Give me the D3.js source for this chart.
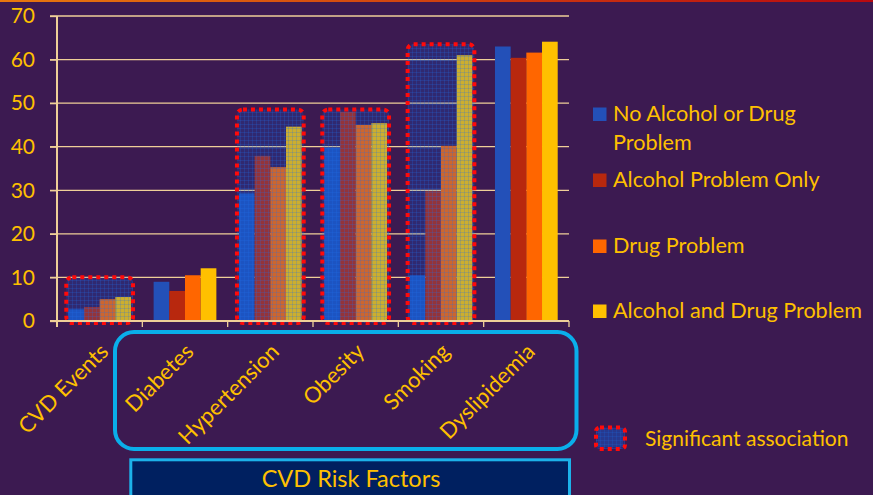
<!DOCTYPE html>
<html>
<head>
<meta charset="utf-8">
<script src="https://cdn.jsdelivr.net/npm/d3@7"></script>
<style>
  html, body { margin: 0; padding: 0; background: #3c1a51; }
  svg { display: block; }
  text { font-family: Lato, "Open Sans", sans-serif; }
</style>
</head>
<body>
<svg id="chart" width="873" height="495"></svg>
<script>
// ---------- data ----------
const categories = ["CVD Events", "Diabetes", "Hypertension", "Obesity", "Smoking", "Dyslipidemia"];
const seriesNames = ["No Alcohol or Drug Problem", "Alcohol Problem Only", "Drug Problem", "Alcohol and Drug Problem"];
const noProblem      = [2.7,  9.0, 29.3, 39.8, 10.5, 63.0];
const alcoholOnly    = [3.2,  6.9, 37.9, 48.0, 29.8, 60.4];
const drugProblem    = [5.0, 10.5, 35.3, 45.0, 40.2, 61.6];
const alcoholAndDrug = [5.5, 12.1, 44.6, 45.4, 61.0, 64.1];
const yTicks = [0, 10, 20, 30, 40, 50, 60, 70];
const sigCategories = ["CVD Events", "Hypertension", "Obesity", "Smoking"];
const sigTops = [10.5, 49, 49, 64];
const legendLines = [["No Alcohol or Drug", "Problem"], ["Alcohol Problem Only"], ["Drug Problem"], ["Alcohol and Drug Problem"]];
const groupTitle = "CVD Risk Factors";
const sigLabel = "Significant association";

// ---------- styles ----------
const colors = ["#2350b8", "#b8280e", "#ff6600", "#ffc000"];
const textColor = "#ffc000";
const lineColor = "#efcf98";

const svg = d3.select("#chart");
const W = 873, H = 495;

svg.append("rect").attr("width", W).attr("height", H).attr("fill", "#3c1a51");

const defs = svg.append("defs");
const grad = defs.append("linearGradient").attr("id", "topline");
grad.append("stop").attr("offset", "0%").attr("stop-color", "#e8780e");
grad.append("stop").attr("offset", "100%").attr("stop-color", "#b80a10");
svg.append("rect").attr("x", 0).attr("y", 0).attr("width", W).attr("height", 2).attr("fill", "url(#topline)");

// checkered pattern for significance boxes
const pat = defs.append("pattern").attr("id", "check").attr("patternUnits", "userSpaceOnUse")
  .attr("width", 4).attr("height", 4);
pat.append("rect").attr("width", 4).attr("height", 4).attr("fill", "rgba(0,100,235,0.2)");
pat.append("rect").attr("width", 4).attr("height", 1).attr("fill", "rgba(30,110,230,0.22)");
pat.append("rect").attr("width", 1).attr("height", 4).attr("fill", "rgba(30,110,230,0.22)");

// ---------- scales ----------
const plot = { left: 57, right: 569, top: 16, bottom: 321 };
const x = d3.scaleBand().domain(categories).range([plot.left, plot.right]).padding(0);
const x1 = d3.scaleBand().domain(seriesNames).range([0, x.bandwidth()]).paddingInner(0).paddingOuter(0.72);
const y = d3.scaleLinear().domain([0, 70]).range([plot.bottom, plot.top]);

const series = [noProblem, alcoholOnly, drugProblem, alcoholAndDrug];

// gridlines
svg.append("g").selectAll("line").data(yTicks.filter(d => d > 0)).join("line")
  .attr("x1", plot.left - 7).attr("x2", plot.right)
  .attr("y1", d => y(d)).attr("y2", d => y(d))
  .attr("stroke", lineColor).attr("stroke-width", 1.3);

// bars
const rows = categories.map((c, i) => ({ cat: c, vals: series.map((s, k) => ({ name: seriesNames[k], v: s[i], k })) }));
svg.append("g").selectAll("g").data(rows).join("g")
  .attr("transform", d => `translate(${x(d.cat)},0)`)
  .selectAll("rect").data(d => d.vals).join("rect")
  .attr("x", d => x1(d.name))
  .attr("width", x1.bandwidth())
  .attr("y", d => y(d.v))
  .attr("height", d => y(0) - y(d.v))
  .attr("fill", d => colors[d.k]);

// significance boxes
svg.append("g").selectAll("rect").data(sigCategories.map((c, i) => ({ cat: c, top: sigTops[i] }))).join("rect")
  .attr("x", d => x(d.cat) + x1(seriesNames[0]) - 2)
  .attr("width", x1.bandwidth() * 4 + 4)
  .attr("y", d => y(d.top) + 2)
  .attr("height", d => y(0) - y(d.top))
  .attr("rx", 6)
  .attr("fill", "url(#check)")
  .attr("stroke", "#ff0a0a").attr("stroke-width", 4).attr("stroke-dasharray", "4 4");

// axes lines
const yAxis = d3.axisLeft(y).tickValues(yTicks).tickSize(7).tickPadding(15).tickFormat(d3.format("d"));
const gy = svg.append("g").attr("transform", `translate(${plot.left},0)`).call(yAxis);
gy.select(".domain").remove();
gy.selectAll(".tick line").attr("stroke", lineColor).attr("stroke-width", 1.3);
gy.selectAll(".tick text").attr("fill", textColor).attr("font-size", 21).attr("font-family", "Lato, sans-serif");
svg.append("line").attr("x1", plot.left).attr("x2", plot.left).attr("y1", plot.top).attr("y2", plot.bottom + 6)
  .attr("stroke", lineColor).attr("stroke-width", 2);
svg.append("line").attr("x1", plot.left - 7).attr("x2", plot.right).attr("y1", plot.bottom).attr("y2", plot.bottom)
  .attr("stroke", lineColor).attr("stroke-width", 2);
svg.append("g").selectAll("line").data(d3.range(categories.length + 1)).join("line")
  .attr("x1", i => plot.left + i * x.step()).attr("x2", i => plot.left + i * x.step())
  .attr("y1", plot.bottom).attr("y2", plot.bottom + 6)
  .attr("stroke", lineColor).attr("stroke-width", 1.3);

// risk-factor rounded box
svg.append("rect").attr("x", 115).attr("y", 332).attr("width", 461.5).attr("height", 117)
  .attr("rx", 19).attr("fill", "none").attr("stroke", "#0aaeea").attr("stroke-width", 4);

// category labels
svg.append("g").selectAll("text").data(categories).join("text")
  .attr("transform", d => `translate(${x(d) + x.bandwidth() / 2 + 10},${353}) rotate(-45)`)
  .attr("text-anchor", "end")
  .attr("fill", textColor).attr("font-size", 22)
  .text(d => d);

// CVD risk factors box
svg.append("rect").attr("x", 130.8).attr("y", 459.8).attr("width", 438.7).attr("height", 50)
  .attr("fill", "#002060").attr("stroke", "#1cb2ea").attr("stroke-width", 3);
svg.append("text").attr("x", 351).attr("y", 487).attr("text-anchor", "middle")
  .attr("fill", textColor).attr("font-size", 23.5).text(groupTitle);

// legend
const legendY = [121, 187, 253, 318];
const lg = svg.append("g");
legendLines.forEach((lines, i) => {
  lg.append("rect").attr("x", 593).attr("y", legendY[i] - 13.5).attr("width", 13.5).attr("height", 13.5).attr("fill", colors[i]);
  const t = lg.append("text").attr("x", 613).attr("y", legendY[i]).attr("fill", textColor).attr("font-size", 21.6);
  lines.forEach((l, j) => t.append("tspan").attr("x", 613).attr("dy", j === 0 ? 0 : 29).text(l));
});
lg.append("rect").attr("x", 596).attr("y", 427.5).attr("width", 29).attr("height", 21.5).attr("rx", 4)
  .attr("fill", "url(#check)").attr("stroke", "#ff0a0a").attr("stroke-width", 4).attr("stroke-dasharray", "4 4");
lg.append("rect").attr("x", 598).attr("y", 429.5).attr("width", 25).attr("height", 17.5).attr("fill", "rgba(20,90,200,0.35)");
lg.append("text").attr("x", 645).attr("y", 446).attr("fill", textColor).attr("font-size", 21).text(sigLabel);
</script>
</body>
</html>
